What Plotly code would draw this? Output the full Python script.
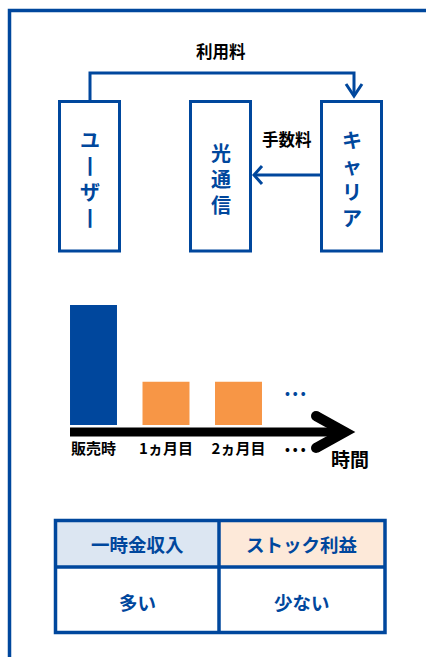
import plotly.graph_objects as go

# ---- data ----
periods = ["販売時", "1ヵ月目", "2ヵ月目"]
revenue = [100, 36, 36]
bar_colors = ["#00479d", "#f79646", "#f79646"]

user_chars = ["ユ", "丨", "ザ", "丨"]
hikari_chars = ["光", "通", "信"]
carrier_chars = ["キ", "ャ", "リ", "ア"]

flow_labels = ["利用料", "手数料"]

table_headers = ["一時金収入", "ストック利益"]
table_values = ["多い", "少ない"]
header_fills = ["#dce6f2", "#fde9d9"]

BLUE = "#00479d"
FONT = "Noto Sans CJK JP"
W, H = 426, 657

fig = go.Figure()

# bar chart on secondary axes
fig.add_trace(go.Bar(x=periods, y=revenue, marker=dict(color=bar_colors, line=dict(width=0)),
                     xaxis="x2", yaxis="y2", hoverinfo="skip", showlegend=False))

shapes = []
ann = []

def line(path, color=BLUE, width=3):
    shapes.append(dict(type="path", path=path, xref="x", yref="y",
                       line=dict(color=color, width=width)))

def rect(x0, y0, x1, y1, color=BLUE, width=3, fill="rgba(0,0,0,0)"):
    shapes.append(dict(type="rect", x0=x0, y0=y0, x1=x1, y1=y1, xref="x", yref="y",
                       line=dict(color=color, width=width), fillcolor=fill, layer="above"))

def text(x, y, s, size, color="#000000"):
    ann.append(dict(x=x, y=y, xref="x", yref="y", text=s, showarrow=False,
                    font=dict(family=FONT, size=size, color=color),
                    xanchor="center", yanchor="middle"))

def vtext(x, y, chars, size, color=BLUE):
    text(x, y, "<br>".join("<b>" + c + "</b>" for c in chars), size, color)

# outer frame
rect(9.5, 10.5, 440, 680, width=3.5)

# boxes
rect(59.5, 101.5, 119.5, 251)
rect(190.5, 101.5, 250.5, 251)
rect(321.5, 101.5, 381.5, 251)

# 利用料 arrow
line("M 90,101 L 90,73 L 354,73 L 354,96")
line("M 346,84 L 354,96 L 362,84")
# 手数料 arrow
line("M 320,175 L 254,175")
line("M 262,166 L 254,175 L 262,184")

text(221, 51, "<b>" + flow_labels[0] + "</b>", 16.5)
text(287, 139, "<b>" + flow_labels[1] + "</b>", 16.5)

vtext(89.5, 178, user_chars, 20)
vtext(220.5, 178, hikari_chars, 20)
vtext(351.5, 178, carrier_chars, 20)

# time arrow
line("M 70,432 L 340,432", color="#000000", width=9)
line("M 316,416 L 345,432 L 316,448", color="#000000", width=10)
for cy in (416, 448):
    shapes.append(dict(type="circle", x0=311, x1=321, y0=cy - 5, y1=cy + 5, xref="x", yref="y",
                       fillcolor="#000000", line=dict(width=0)))

text(295, 392, "<b>• • •</b>", 13, BLUE)
text(295, 448, "<b>• • •</b>", 13, "#000000")
text(350, 458, "<b>時間</b>", 19)

# table
rect(55.5, 520.5, 219, 567, width=0, fill=header_fills[0])
rect(219, 520.5, 385, 567, width=0, fill=header_fills[1])
rect(55.5, 520.5, 385, 632.5, width=3.5)
line("M 219,520.5 L 219,632.5", width=3.5)
line("M 55.5,567 L 385,567", width=3.5)
for i, (h, v) in enumerate(zip(table_headers, table_values)):
    cx = [137, 302][i]
    text(cx, 543.5, "<b>" + h + "</b>", 18.5, BLUE)
    text(cx, 602, "<b>" + v + "</b>", 18.5, BLUE)

fig.update_layout(
    width=W, height=H, margin=dict(l=0, r=0, t=0, b=0),
    paper_bgcolor="#ffffff", plot_bgcolor="rgba(0,0,0,0)",
    shapes=shapes, annotations=ann, bargap=0.352,
    xaxis=dict(range=[0, W], visible=False, domain=[0, 1], fixedrange=True),
    yaxis=dict(range=[H, 0], visible=False, domain=[0, 1], fixedrange=True),
    xaxis2=dict(domain=[57.25 / W, 274.75 / W], anchor="y2", showgrid=False, zeroline=False,
                showline=False, ticks="", ticklabelstandoff=13,
                tickfont=dict(family=FONT, size=15, color="#000000"),
                tickvals=periods, ticktext=["<b>" + p + "</b>" for p in periods]),
    yaxis2=dict(domain=[1 - 425 / H, 1 - 305 / H], anchor="x2", range=[0, 100], visible=False),
    font=dict(family=FONT),
)

fig.write_html("out.html", config={"displayModeBar": False},
               post_script="document.body.style.margin='0';")
